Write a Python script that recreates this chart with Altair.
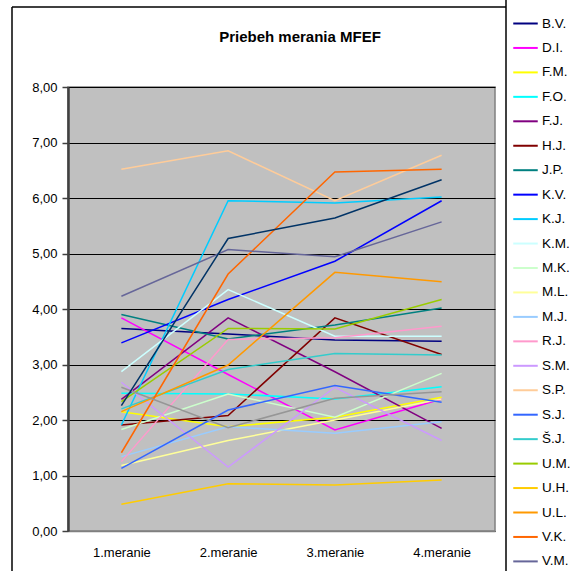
import altair as alt
import pandas as pd

categories = ["1.meranie", "2.meranie", "3.meranie", "4.meranie"]
names = ["B.V.", "D.I.", "F.M.", "F.O.", "F.J.", "H.J.", "J.P.", "K.V.", "K.J.", "K.M.",
         "M.K.", "M.L.", "M.J.", "R.J.", "S.M.", "S.P.", "S.J.", "Š.J.", "U.M.", "U.H.",
         "U.L.", "V.K.", "V.M.", "X.1", "X.2"]
legend_names = names[:23]
m1 = [3.65, 3.84, 2.15, 2.48, 2.37, 1.91, 3.90, 3.39, 1.91, 2.87, 1.83, 1.18, 1.34, 1.25, 2.68,
      6.52, 1.13, 2.20, 2.33, 0.48, 2.15, 1.41, 4.23, 2.59, 2.26]
m2 = [3.55, 2.82, 1.88, 2.47, 3.84, 2.08, 3.46, 4.17, 5.95, 4.35, 2.47, 1.63, 1.88, 3.45, 1.15,
      6.85, 2.18, 2.91, 3.65, 0.85, 2.99, 4.63, 5.07, 1.86, 5.27]
m3 = [3.44, 1.82, 2.05, 2.38, 2.87, 3.84, 3.71, 4.86, 5.91, 3.51, 2.05, 2.00, 1.76, 3.48, 2.59,
      5.95, 2.62, 3.20, 3.64, 0.83, 4.66, 6.47, 4.94, 2.39, 5.64]
m4 = [3.42, 2.38, 2.41, 2.60, 1.85, 3.18, 4.02, 5.95, 6.02, 3.51, 2.84, 2.38, 1.97, 3.69, 1.63,
      6.77, 2.32, 3.17, 4.17, 0.92, 4.49, 6.52, 5.57, 2.51, 6.33]
title_text = "Priebeh merania MFEF"

colors = ["#000080", "#FF00FF", "#FFFF00", "#00FFFF", "#800080", "#800000", "#008080", "#0000FF",
          "#00CCFF", "#CCFFFF", "#CCFFCC", "#FFFF99", "#99CCFF", "#FF99CC", "#CC99FF", "#FFCC99",
          "#3366FF", "#33CCCC", "#99CC00", "#FFCC00", "#FF9900", "#FF6600", "#666699", "#969696",
          "#003366"]

rows = []
for i, n in enumerate(names):
    for c, vals in zip(categories, [m1, m2, m3, m4]):
        rows.append({"name": n, "measurement": c, "value": vals[i], "idx": i})
df = pd.DataFrame(rows)

FONT = "Arial, Liberation Sans, sans-serif"
W, H = 427, 444
L, T = 68, 87

lines = alt.Chart(df).mark_line(strokeWidth=1.5).encode(
    x=alt.X("measurement:N", sort=categories,
            scale=alt.Scale(type="point", padding=0.5),
            axis=alt.Axis(title=None, labelAngle=0, labelFont=FONT, labelFontSize=13,
                          labelColor="black", labelPadding=15, ticks=False,
                          domainColor="#808080", domainWidth=1.5, grid=False)),
    y=alt.Y("value:Q", scale=alt.Scale(domain=[0, 8], nice=False),
            axis=alt.Axis(title=None, values=[0, 1, 2, 3, 4, 5, 6, 7, 8],
                          labelExpr="replace(format(datum.value, '.2f'), '.', ',')",
                          labelFont=FONT, labelFontSize=13, labelColor="black",
                          labelPadding=5, tickSize=6, tickColor="#404040", tickWidth=1.5,
                          domainColor="#404040", domainWidth=2.5,
                          grid=True, gridColor="black", gridWidth=1)),
    color=alt.Color("name:N", sort=names,
                    scale=alt.Scale(domain=names, range=colors),
                    legend=alt.Legend(values=legend_names, title=None, orient="none",
                                      legendX=444, legendY=-77, symbolType="stroke",
                                      symbolSize=600, symbolStrokeWidth=2,
                                      labelFont=FONT, labelFontSize=13.5, labelColor="black",
                                      labelOffset=3, rowPadding=4.45, padding=0,
                                      labelLimit=200)),
    detail="name:N",
    order="idx:Q",
)

title = alt.Chart(pd.DataFrame({"t": [title_text]})).mark_text(
    font=FONT, fontSize=15, fontWeight="bold", color="black", align="center", baseline="middle"
).encode(text="t:N", x=alt.value(300 - L), y=alt.value(37 - T))

frame_top = alt.Chart(pd.DataFrame({"a": [0]})).mark_rule(color="black", strokeWidth=1.5).encode(
    x=alt.value(12 - L), x2=alt.value(506 - L), y=alt.value(7 - T))
frame_left = alt.Chart(pd.DataFrame({"a": [0]})).mark_rule(color="black", strokeWidth=1.5).encode(
    x=alt.value(12 - L), y=alt.value(7 - T), y2=alt.value(571 - T))
frame_right = alt.Chart(pd.DataFrame({"a": [0]})).mark_rule(color="black", strokeWidth=1.5).encode(
    x=alt.value(506 - L), y=alt.value(0 - T), y2=alt.value(571 - T))

chart = alt.layer(lines, title, frame_top, frame_left, frame_right).properties(
    width=W, height=H,
    autosize=alt.AutoSizeParams(type="none"),
    padding={"left": L, "top": T, "right": 582 - L - W, "bottom": 571 - T - H},
    background="white",
).configure_view(fill="#C0C0C0", stroke="#808080", strokeWidth=1.5)

chart.save("out.html", embed_options={"renderer": "svg", "actions": False})
